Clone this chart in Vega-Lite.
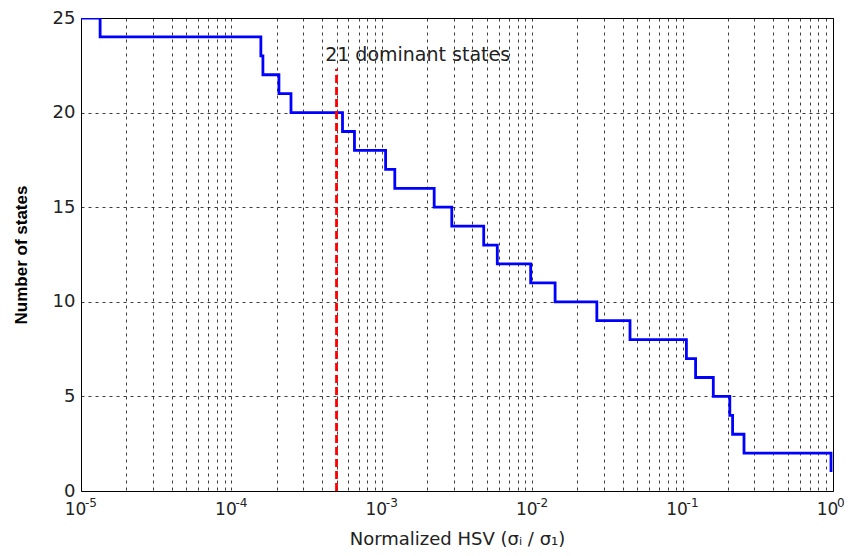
{
  "$schema": "https://vega.github.io/schema/vega-lite/v6.json",
  "width": 752,
  "height": 473,
  "autosize": {"type": "none"},
  "padding": {"left": 81, "top": 18, "right": 18, "bottom": 65},
  "background": "white",
  "config": {
    "font": "DejaVu Sans",
    "view": {"stroke": "#000", "strokeWidth": 1}
  },
  "datasets": {
    "hsv": [
      {"hsv": 0.00001, "states": 25},
      {"hsv": 0.0000134, "states": 24},
      {"hsv": 0.000157, "states": 23},
      {"hsv": 0.000162, "states": 22},
      {"hsv": 0.000207, "states": 21},
      {"hsv": 0.000249, "states": 20},
      {"hsv": 0.000548, "states": 19},
      {"hsv": 0.000658, "states": 18},
      {"hsv": 0.00106, "states": 17},
      {"hsv": 0.00122, "states": 16},
      {"hsv": 0.00223, "states": 15},
      {"hsv": 0.00292, "states": 14},
      {"hsv": 0.00476, "states": 13},
      {"hsv": 0.00586, "states": 12},
      {"hsv": 0.00977, "states": 11},
      {"hsv": 0.0142, "states": 10},
      {"hsv": 0.0269, "states": 9},
      {"hsv": 0.0447, "states": 8},
      {"hsv": 0.106, "states": 7},
      {"hsv": 0.122, "states": 6},
      {"hsv": 0.160, "states": 5},
      {"hsv": 0.206, "states": 4},
      {"hsv": 0.215, "states": 3},
      {"hsv": 0.256, "states": 2},
      {"hsv": 0.97, "states": 2},
      {"hsv": 0.97, "states": 1}
    ],
    "cutoff": [
      {"hsv": 0.0005, "low": 0, "high": 22.3, "label": "21 dominant states", "labelX": 0.00042, "labelY": 23.05}
    ],
    "decades": [
      {"hsv": 0.00001, "exponent": "-5"},
      {"hsv": 0.0001, "exponent": "-4"},
      {"hsv": 0.001, "exponent": "-3"},
      {"hsv": 0.01, "exponent": "-2"},
      {"hsv": 0.1, "exponent": "-1"},
      {"hsv": 1, "exponent": "0"}
    ]
  },
  "layer": [
    {
      "data": {"name": "hsv"},
      "mark": {"type": "line", "interpolate": "step-after", "color": "#0000ff", "strokeWidth": 2.8, "clip": true},
      "encoding": {
        "x": {
          "field": "hsv",
          "type": "quantitative",
          "scale": {"type": "log", "domain": [0.00001, 1], "nice": false},
          "axis": {
            "title": "Normalized HSV (σᵢ / σ₁)",
            "titleFont": "DejaVu Sans",
            "titleFontSize": 18,
            "titleFontWeight": "normal",
            "titleColor": "#222",
            "titlePadding": 13,
            "values": [0.00001, 0.00002, 0.00003, 0.00004, 0.00005, 0.00006, 0.00007, 0.00008, 0.00009,
                       0.0001, 0.0002, 0.0003, 0.0004, 0.0005, 0.0006, 0.0007, 0.0008, 0.0009,
                       0.001, 0.002, 0.003, 0.004, 0.005, 0.006, 0.007, 0.008, 0.009,
                       0.01, 0.02, 0.03, 0.04, 0.05, 0.06, 0.07, 0.08, 0.09,
                       0.1, 0.2, 0.3, 0.4, 0.5, 0.6, 0.7, 0.8, 0.9, 1],
            "labelExpr": "abs(log(datum.value)/LN10 - round(log(datum.value)/LN10)) > 0.01 ? '' : '10'",
            "labelFontSize": 17,
            "labelColor": "#222",
            "labelPadding": 10,
            "labelOffset": -6,
            "labelOverlap": false,
            "labelFlush": false,
            "ticks": false,
            "domain": false,
            "grid": true,
            "gridColor": "#000",
            "gridDash": [3, 4],
            "gridWidth": 0.9,
            "gridOpacity": 0.85
          }
        },
        "y": {
          "field": "states",
          "type": "quantitative",
          "scale": {"domain": [0, 25], "nice": false},
          "axis": {
            "title": "Number of states",
            "titleFont": "Liberation Sans",
            "titleFontSize": 17,
            "titleFontWeight": "bold",
            "titleColor": "#000",
            "titlePadding": 22,
            "values": [0, 5, 10, 15, 20, 25],
            "labelFontSize": 18,
            "labelColor": "#222",
            "labelPadding": 6,
            "ticks": false,
            "domain": false,
            "grid": true,
            "gridColor": "#000",
            "gridDash": [3, 4],
            "gridWidth": 0.9,
            "gridOpacity": 0.85
          }
        }
      }
    },
    {
      "data": {"name": "decades"},
      "mark": {"type": "text", "align": "left", "baseline": "alphabetic", "fontSize": 12, "color": "#222", "dx": 4, "dy": 16},
      "encoding": {
        "x": {"field": "hsv", "type": "quantitative"},
        "y": {"datum": 0, "type": "quantitative"},
        "text": {"field": "exponent"}
      }
    },
    {
      "data": {"name": "cutoff"},
      "mark": {"type": "rule", "color": "#ff0000", "strokeWidth": 2.8, "strokeDash": [8, 4]},
      "encoding": {
        "x": {"field": "hsv", "type": "quantitative"},
        "y": {"field": "low", "type": "quantitative"},
        "y2": {"field": "high"}
      }
    },
    {
      "data": {"name": "cutoff"},
      "mark": {"type": "text", "align": "left", "baseline": "middle", "fontSize": 19, "color": "#222"},
      "encoding": {
        "x": {"field": "labelX", "type": "quantitative"},
        "y": {"field": "labelY", "type": "quantitative"},
        "text": {"field": "label"}
      }
    }
  ]
}
